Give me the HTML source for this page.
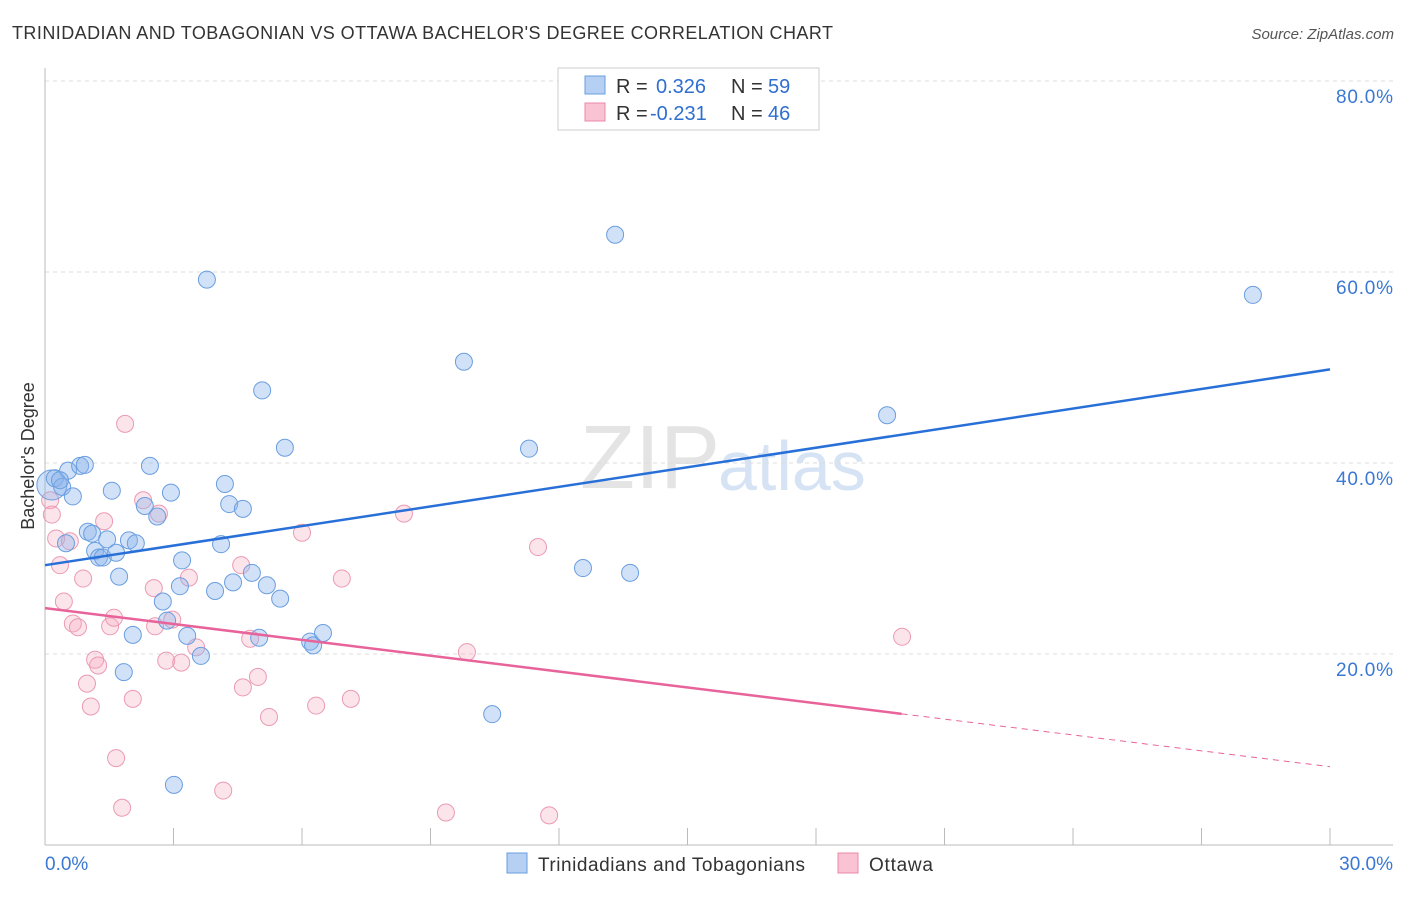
<!DOCTYPE html>
<html><head><meta charset="utf-8"><style>
body{margin:0;background:#fff;font-family:"Liberation Sans",sans-serif;}
svg text{font-family:"Liberation Sans",sans-serif;}
</style></head><body>
<svg id="chart" width="1406" height="892">
<text x="12" y="39" font-size="18" fill="#333" textLength="821">TRINIDADIAN AND TOBAGONIAN VS OTTAWA BACHELOR'S DEGREE CORRELATION CHART</text>
<text x="1394" y="39" font-size="15" fill="#555" text-anchor="end" font-style="italic">Source: ZipAtlas.com</text>
<text x="720" y="488" font-size="90" fill="#e4e4e4" text-anchor="end" font-family="Liberation Serif">ZIP</text>
<text x="718" y="490" font-size="70" fill="#d6e3f4">atlas</text>
<g id="grid"></g><g id="axes"></g><g id="pts"></g><g id="lines"></g>
<text transform="translate(34,456) rotate(-90)" font-size="18" fill="#333" text-anchor="middle">Bachelor's Degree</text>
<g>
<rect x="558" y="68" width="261" height="62" fill="#fff" stroke="#ccc"/>
<rect x="585" y="76" width="20" height="18" fill="#b5d0f3" stroke="#6a9ee0"/>
<rect x="585" y="103" width="20" height="18" fill="#f9c3d3" stroke="#ec8aa7"/>
<text x="616" y="93" font-size="20" fill="#333">R = <tspan x="656" fill="#2f6fd0">0.326</tspan><tspan x="731">N = </tspan><tspan x="768" fill="#2f6fd0">59</tspan></text>
<text x="616" y="120" font-size="20" fill="#333">R = <tspan x="650" fill="#2f6fd0">-0.231</tspan><tspan x="731">N = </tspan><tspan x="768" fill="#2f6fd0">46</tspan></text>
</g>
<g>
<rect x="507" y="853" width="20" height="20" fill="#b5d0f3" stroke="#6a9ee0"/>
<text x="538" y="871" font-size="19" fill="#333" textLength="267">Trinidadians and Tobagonians</text>
<rect x="838" y="853" width="20" height="20" fill="#f9c3d3" stroke="#ec8aa7"/>
<text x="869" y="871" font-size="19" fill="#333" textLength="64">Ottawa</text>
</g>
</svg>
<script>
const blueX=[.16,.23,.40,.54,.65,.82,.35,.93,.49,1.00,1.10,1.17,1.26,1.35,1.45,1.56,1.66,1.73,1.84,1.96,2.05,2.12,2.33,2.45,2.62,2.75,2.85,2.94,3.01,3.15,3.20,3.32,3.64,3.78,3.97,4.11,4.20,4.30,4.39,4.62,4.83,5.00,5.07,5.18,5.49,5.60,6.19,6.26,6.49,9.78,10.44,11.30,12.56,13.31,13.66,19.66,28.20];
const blueY=[37.7,38.4,37.5,39.2,36.5,39.7,38.2,39.8,31.6,32.8,32.6,30.8,30.1,30.1,32.0,37.1,30.6,28.1,18.1,31.9,22.0,31.6,35.5,39.7,34.4,25.5,23.5,36.9,6.3,27.1,29.8,21.9,19.8,59.2,26.6,31.5,37.8,35.7,27.5,35.2,28.5,21.7,47.6,27.2,25.8,41.6,21.3,20.9,22.2,50.6,13.7,41.5,29.0,63.9,28.5,45.0,57.6];
const pinkX=[.12,.16,.26,.35,.44,.58,.65,.77,.89,.98,1.07,1.17,1.24,1.38,1.52,1.61,1.66,1.80,1.87,2.05,2.29,2.54,2.57,2.66,2.83,2.97,3.18,3.36,3.53,4.16,4.58,4.62,4.79,4.97,5.23,6.00,6.33,6.93,7.14,8.38,9.36,9.85,11.51,11.77,20.01];
const pinkY=[36.1,34.6,32.1,29.3,25.5,31.8,23.2,22.8,27.9,16.9,14.5,19.4,18.8,33.9,22.9,23.8,9.1,3.9,44.1,15.3,36.1,26.9,22.9,34.7,19.3,23.6,19.1,28.0,20.7,5.7,29.3,16.5,21.6,17.6,13.4,32.7,14.6,27.9,15.3,34.7,3.4,20.2,31.2,3.1,21.8];
const blueTrend=[29.3,49.8];
const pinkTrend=[24.8,8.2];
const yTicks=[20,40,60,80];
const NS='http://www.w3.org/2000/svg';
const sx=v=>45+v/30*1285, sy=v=>845-v*9.55;
function mk(t,a,p){const e=document.createElementNS(NS,t);for(const k in a)e.setAttribute(k,a[k]);document.getElementById(p).appendChild(e);return e;}
yTicks.forEach(t=>{
 const g=mk('line',{x1:45,x2:1393,y1:sy(t),y2:sy(t),stroke:'#ddd','stroke-dasharray':'4,4'},'grid');
 
 
 const l=mk('text',{x:1393,y:sy(t)+22,'font-size':19,fill:'#3a78d4','text-anchor':'end',textLength:57},'grid');
 l.textContent=t.toFixed(1)+'%';
 
 
});
mk('line',{x1:45,x2:45,y1:68,y2:845,stroke:'#bbb'},'axes');
mk('line',{x1:45,x2:1393,y1:845,y2:845,stroke:'#bbb'},'axes');
for(let i=1;i<=10;i++){const x=sx(i*3);mk('line',{x1:x,x2:x,y1:828,y2:845,stroke:'#bbb'},'axes');}
const x0=mk('text',{x:45,y:870,'font-size':19,fill:'#3a78d4'},'axes');x0.textContent='0.0%';


const x1=mk('text',{x:1393,y:870,'font-size':19,fill:'#3a78d4','text-anchor':'end'},'axes');x1.textContent='30.0%';


function dot(x,y,blue,i){
 const r=(blue&&i===0)?15:8.5;
 const c=mk('circle',{cx:sx(x),cy:sy(y),r:r,fill:blue?'rgba(140,180,235,0.4)':'rgba(245,165,190,0.3)',stroke:blue?'#6a9ee0':'#eb9ab3','stroke-width':1},'pts');
 
 
}
pinkX.forEach((x,i)=>dot(x,pinkY[i],false,i));
blueX.forEach((x,i)=>dot(x,blueY[i],true,i));
const bl=mk('line',{x1:sx(0),y1:sy(blueTrend[0]),x2:sx(30),y2:sy(blueTrend[1]),stroke:'#2870d8','stroke-width':2.5},'lines');


const pAt=v=>pinkTrend[0]+(pinkTrend[1]-pinkTrend[0])*v/30;
const pl=mk('line',{x1:sx(0),y1:sy(pAt(0)),x2:sx(20),y2:sy(pAt(20)),stroke:'#e8639a','stroke-width':2.5},'lines');


const pd=mk('line',{x1:sx(20),y1:sy(pAt(20)),x2:sx(30),y2:sy(pAt(30)),stroke:'#e8639a','stroke-width':1,'stroke-dasharray':'6,5'},'lines');


</script>
</body></html>
